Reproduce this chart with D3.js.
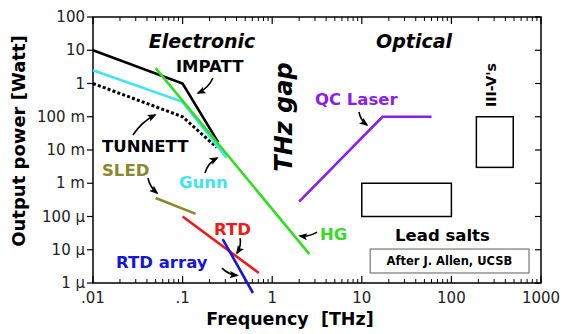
<!DOCTYPE html>
<html>
  <head>
    <meta charset="utf-8" />
    <title>THz gap</title>
    <script src="https://d3js.org/d3.v7.min.js"></script>
    <style>
      body { margin: 0; background: #fff; }
      text { font-family: 'DejaVu Sans', sans-serif; }
    </style>
  </head>
  <body>
    <script>
      // axis ticks
      const xTicks = [0.01, 0.1, 1, 10, 100, 1000];
      const xTickLabels = ['.01', '.1', '1', '10', '100', '1000'];
      const yTicks = [100, 10, 1, 0.1, 0.01, 1e-3, 1e-4, 1e-5, 1e-6];
      const yTickLabels = ['100', '10', '1', '100 m', '10 m', '1 m', '100 \u00b5', '10 \u00b5', '1 \u00b5'];

      // source curves: frequency [THz] and power [W]
      const impattF = [0.01, 0.1, 0.25];
      const impattP = [10, 1, 0.017];
      const gunnF = [0.01, 0.1, 0.31];
      const gunnP = [2.5, 0.28, 0.0058];
      const tunnettF = [0.01, 0.1, 0.24];
      const tunnettP = [1, 0.1, 0.012];
      const hgF = [0.05, 2.6];
      const hgP = [2.9, 7.4e-6];
      const qcF = [2.0, 17, 60];
      const qcP = [2.8e-4, 0.1, 0.1];
      const sledF = [0.05, 0.14];
      const sledP = [3.6e-4, 1.2e-4];
      const rtdF = [0.1, 0.71];
      const rtdP = [1e-4, 2e-6];
      const rtdArrayF = [0.28, 0.61];
      const rtdArrayP = [2.1e-5, 5e-7];

      // boxes [f0, f1, p0, p1]
      const iiivBox = [190, 490, 0.1, 0.003];
      const leadSaltsBox = [10, 100, 1e-3, 1e-4];
      const creditBox = [12.4, 735, 1.05e-5, 2e-6];

      // arrows [tailF, tailP, headF, headP]
      const arrows = [
        [0.218, 1.46, 0.149, 0.52],
        [0.0279, 0.0282, 0.0492, 0.113],
        [0.041, 0.00144, 0.0518, 5.1e-4],
        [0.178, 0.00203, 0.242, 0.00574],
        [9.3, 0.139, 11.4, 0.0565],
        [3.16, 3.4e-5, 2.04, 2.6e-5],
        [0.438, 2.25e-5, 0.405, 8e-6],
        [0.275, 2.8e-6, 0.405, 1.7e-6],
      ];
      const arrowBend = [-4, -4, 3, -4, 3, -3, -3, 3];

      // labels
      const labelText = ['IMPATT', 'TUNNETT', 'SLED', 'Gunn', 'QC Laser', 'RTD', 'HG', 'RTD array', 'Lead salts'];
      const labelF = [0.0843, 0.0126, 0.0126, 0.0912, 3.0, 0.224, 3.41, 0.0181, 23.5];
      const labelP = [2.22, 0.0087, 0.00165, 7.2e-4, 0.225, 2.8e-5, 1.96e-5, 2.8e-6, 1.8e-5];

      const w = 565;
      const h = 334;
      const margin = { top: 17, right: 24, bottom: 51, left: 93 };

      const svg = d3.select('body').append('svg').attr('width', w).attr('height', h);

      const x = d3.scaleLog().domain([0.01, 1000]).range([margin.left, w - margin.right]);
      const y = d3.scaleLog().domain([1e-6, 100]).range([h - margin.bottom, margin.top]);

      const x0 = x.range()[0], x1 = x.range()[1];
      const y0 = y.range()[1], y1 = y.range()[0];

      // minor ticks for x
      var minor = [];
      for (var d = 0.01; d < 1000; d *= 10) {
        for (var k = 2; k <= 9; k++) minor.push(d * k);
      }

      const frame = svg.append('g');
      frame
        .append('rect')
        .attr('x', x0)
        .attr('y', y0)
        .attr('width', x1 - x0)
        .attr('height', y1 - y0)
        .attr('fill', 'none')
        .attr('stroke', '#000')
        .attr('stroke-width', 1.5);

      // bottom and top ticks (inward)
      [y1, y0].forEach((yy, i) => {
        const dir = i === 0 ? -1 : 1;
        frame
          .selectAll(null)
          .data(minor)
          .enter()
          .append('line')
          .attr('x1', (d) => x(d))
          .attr('x2', (d) => x(d))
          .attr('y1', yy)
          .attr('y2', yy + dir * 4)
          .attr('stroke', '#000')
          .attr('stroke-width', 1);
        frame
          .selectAll(null)
          .data(xTicks)
          .enter()
          .append('line')
          .attr('x1', (d) => x(d))
          .attr('x2', (d) => x(d))
          .attr('y1', yy)
          .attr('y2', yy + dir * 7)
          .attr('stroke', '#000')
          .attr('stroke-width', 1.2);
      });

      // left ticks outward, right ticks inward
      frame
        .selectAll(null)
        .data(yTicks)
        .enter()
        .append('line')
        .attr('x1', x0 - 6)
        .attr('x2', x0)
        .attr('y1', (d) => y(d))
        .attr('y2', (d) => y(d))
        .attr('stroke', '#000')
        .attr('stroke-width', 1.2);
      frame
        .selectAll(null)
        .data(yTicks)
        .enter()
        .append('line')
        .attr('x1', x1 - 6)
        .attr('x2', x1)
        .attr('y1', (d) => y(d))
        .attr('y2', (d) => y(d))
        .attr('stroke', '#000')
        .attr('stroke-width', 1.2);

      frame
        .selectAll(null)
        .data(xTicks)
        .enter()
        .append('text')
        .attr('x', (d) => x(d))
        .attr('y', y1 + 20)
        .attr('text-anchor', 'middle')
        .style('font-size', '15px')
        .attr('fill', '#222')
        .text((d, i) => xTickLabels[i]);

      frame
        .selectAll(null)
        .data(yTicks)
        .enter()
        .append('text')
        .attr('x', x0 - 8)
        .attr('y', (d) => y(d) + 5)
        .attr('text-anchor', 'end')
        .style('font-size', '15px')
        .attr('fill', '#222')
        .text((d, i) => yTickLabels[i]);

      svg
        .append('text')
        .attr('x', 290)
        .attr('y', 325)
        .attr('text-anchor', 'middle')
        .attr('xml:space', 'preserve')
        .style('white-space', 'pre')
        .style('font-size', '17.5px')
        .style('font-weight', 'bold')
        .text('Frequency  [THz]');

      svg
        .append('text')
        .attr('transform', 'translate(25,141) rotate(-90)')
        .attr('text-anchor', 'middle')
        .style('font-size', '18px')
        .style('font-weight', 'bold')
        .text('Output power [Watt]');

      // boxes
      [
        [iiivBox, '#000', 1.5],
        [leadSaltsBox, '#000', 1.5],
        [creditBox, '#777', 1.2],
      ].forEach(([b, c, sw]) => {
        svg
          .append('rect')
          .attr('x', x(b[0]))
          .attr('y', y(b[2]))
          .attr('width', x(b[1]) - x(b[0]))
          .attr('height', y(b[3]) - y(b[2]))
          .attr('fill', 'none')
          .attr('stroke', c)
          .attr('stroke-width', sw);
      });

      const line = d3
        .line()
        .x((d) => x(d[0]))
        .y((d) => y(d[1]));
      const zip = (a, b) => a.map((v, i) => [v, b[i]]);

      const curves = [
        [tunnettF, tunnettP, '#000', '3,2.2'],
        [gunnF, gunnP, '#3ee6f2', null],
        [impattF, impattP, '#000', null],
        [hgF, hgP, '#33dd22', null],
        [qcF, qcP, '#8a1ef0', null],
        [sledF, sledP, '#8a882a', null],
        [rtdF, rtdP, '#ee1a1a', null],
        [rtdArrayF, rtdArrayP, '#1515dd', null],
      ];
      curves.forEach(([f, p, c, dash]) => {
        svg
          .append('path')
          .attr('d', line(zip(f, p)))
          .attr('fill', 'none')
          .attr('stroke', c)
          .attr('stroke-width', dash ? 3 : 2.6)
          .attr('stroke-dasharray', dash);
      });

      // arrows
      svg
        .append('defs')
        .append('marker')
        .attr('id', 'head')
        .attr('viewBox', '0 0 10 10')
        .attr('refX', 8)
        .attr('refY', 5)
        .attr('markerUnits', 'userSpaceOnUse')
        .attr('markerWidth', 9)
        .attr('markerHeight', 9)
        .attr('orient', 'auto')
        .append('path')
        .attr('d', 'M0,1 L10,5 L0,9 L2,5 z')
        .attr('fill', '#000');

      arrows.forEach((a, i) => {
        const ax = x(a[0]), ay = y(a[1]), bx = x(a[2]), by = y(a[3]);
        const mx = (ax + bx) / 2, my = (ay + by) / 2;
        const len = Math.hypot(bx - ax, by - ay);
        const nx = -(by - ay) / len, ny = (bx - ax) / len;
        const cx = mx + nx * arrowBend[i], cy = my + ny * arrowBend[i];
        svg
          .append('path')
          .attr('d', `M${ax},${ay} Q${cx},${cy} ${bx},${by}`)
          .attr('fill', 'none')
          .attr('stroke', '#000')
          .attr('stroke-width', 1.6)
          .attr('marker-end', 'url(#head)');
      });

      const labelColor = ['#000', '#000', '#8a882a', '#3ee6f2', '#8a1ef0', '#ee1a1a', '#33dd22', '#1515dd', '#000'];
      svg
        .selectAll(null)
        .data(labelText)
        .enter()
        .append('text')
        .attr('x', (d, i) => x(labelF[i]))
        .attr('y', (d, i) => y(labelP[i]))
        .attr('fill', (d, i) => labelColor[i])
        .style('font-size', '16.5px')
        .style('font-weight', 'bold')
        .text((d) => d);

      svg
        .append('text')
        .attr('x', x(0.165))
        .attr('y', y(11.7))
        .attr('text-anchor', 'middle')
        .style('font-size', '19px')
        .style('font-weight', 'bold')
        .style('font-style', 'italic')
        .text('Electronic');

      svg
        .append('text')
        .attr('x', x(38.3))
        .attr('y', y(11.7))
        .attr('text-anchor', 'middle')
        .style('font-size', '19px')
        .style('font-weight', 'bold')
        .style('font-style', 'italic')
        .text('Optical');

      svg
        .append('text')
        .attr('transform', `translate(${x(1.66)},${y(0.098)}) rotate(-90)`)
        .attr('text-anchor', 'middle')
        .style('font-size', '24px')
        .style('font-weight', 'bold')
        .style('font-style', 'italic')
        .text('THz gap');

      svg
        .append('text')
        .attr('transform', `translate(${x(315)},${y(0.9)}) rotate(-90)`)
        .attr('text-anchor', 'middle')
        .style('font-size', '14px')
        .style('font-weight', 'bold')
        .text("III-V's");

      svg
        .append('text')
        .attr('x', x(95))
        .attr('y', y(3.5e-6))
        .attr('text-anchor', 'middle')
        .style('font-size', '11.5px')
        .style('font-weight', 'bold')
        .text('After J. Allen, UCSB');
    </script>
  </body>
</html>
